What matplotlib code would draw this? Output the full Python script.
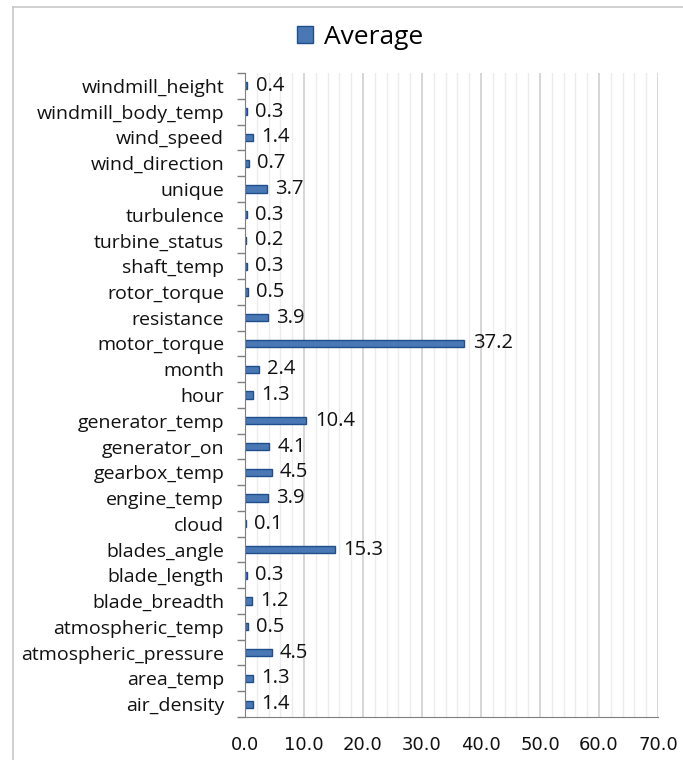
import matplotlib.pyplot as plt
from matplotlib.patches import Rectangle
import numpy as np

# feature names, top to bottom
features = ['windmill_height', 'windmill_body_temp', 'wind_speed', 'wind_direction',
            'unique', 'turbulence', 'turbine_status', 'shaft_temp', 'rotor_torque',
            'resistance', 'motor_torque', 'month', 'hour', 'generator_temp',
            'generator_on', 'gearbox_temp', 'engine_temp', 'cloud', 'blades_angle',
            'blade_length', 'blade_breadth', 'atmospheric_temp', 'atmospheric_pressure',
            'area_temp', 'air_density']
average = [0.4, 0.3, 1.4, 0.7, 3.7, 0.3, 0.2, 0.3, 0.5, 3.9, 37.2, 2.4, 1.3, 10.4,
           4.1, 4.5, 3.9, 0.1, 15.3, 0.3, 1.2, 0.5, 4.5, 1.3, 1.4]
xticks = [0, 10, 20, 30, 40, 50, 60, 70]

bar_fill = '#4a78b5'
bar_edge = '#1f4e8c'

fig = plt.figure(figsize=(6.83, 7.6), dpi=100)
ax = fig.add_axes([245 / 683, 43 / 760, 413 / 683, 644 / 760])

# outer chart frame (top and left edges only)
fig.add_artist(plt.Line2D([13 / 683, 13 / 683], [0, 753 / 760], color='#c8c8c8', lw=1.2,
                          transform=fig.transFigure))
fig.add_artist(plt.Line2D([13 / 683, 1], [753 / 760, 753 / 760], color='#c8c8c8', lw=1.2,
                          transform=fig.transFigure))

y = np.arange(len(features))
ax.barh(y, average, height=0.28, color=bar_fill, edgecolor=bar_edge, linewidth=1.0,
        label='Average', zorder=3)
for yi, v in zip(y, average):
    ax.annotate(f'{v:.1f}', (v, yi), xytext=(6, 0), textcoords='offset points',
                va='center', ha='left', fontsize=14.5, family='Open Sans', color='#111111')

ax.set_ylim(len(features) - 0.5, -0.5)
ax.set_xlim(0, 70)
ax.set_yticks(y)
ax.set_yticklabels(features, fontsize=14, family='Open Sans', color='#111111')
ax.set_yticks(np.arange(-0.5, len(features), 1), minor=True)
ax.tick_params(axis='y', which='major', length=0, pad=15)
ax.tick_params(axis='y', which='minor', length=6, color='#7f7f7f', width=1)

ax.set_xticks(xticks)
ax.set_xticklabels([f'{t:.1f}' for t in xticks], fontsize=13, family='DejaVu Sans',
                   color='#111111')
ax.set_xticks(np.arange(0, 71, 2), minor=True)
ax.tick_params(axis='x', which='both', length=0, pad=14)
ax.grid(axis='x', which='minor', color='#ececec', lw=1, zorder=0)
ax.grid(axis='x', which='major', color='#cfcfcf', lw=1.2, zorder=1)

for side in ['top', 'right']:
    ax.spines[side].set_visible(False)
ax.spines['left'].set_color('#7f7f7f')
ax.spines['bottom'].set_color('#7f7f7f')
ax.spines['left'].set_zorder(4)

leg = fig.legend(handles=[Rectangle((0, 0), 1, 1, facecolor=bar_fill, edgecolor=bar_edge)],
                 labels=['Average'], loc='center', bbox_to_anchor=(360 / 683, 723 / 760),
                 frameon=False, prop={'family': 'Open Sans', 'size': 19},
                 handlelength=0.6, handleheight=0.6, handletextpad=0.4)

fig.savefig('out.png', dpi=100, facecolor='white')
